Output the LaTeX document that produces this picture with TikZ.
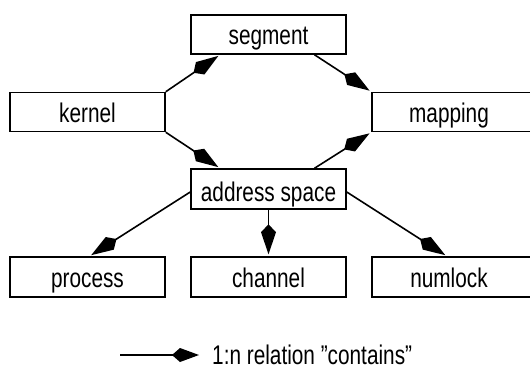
\documentclass[tikz,border=0pt]{standalone}
\usepackage{fontspec}
\setmainfont{Liberation Sans}[FakeStretch=0.77]
\usetikzlibrary{arrows.meta}
\begin{document}
\begin{tikzpicture}[x=1pt,y=-1pt,
  box/.style={draw, line width=1.5pt, minimum width=155pt, minimum height=39pt,
    inner sep=0pt, text height=20pt, text depth=0pt,
    font=\fontsize{27}{30}\selectfont},
  contains/.style={line width=1.6pt, -{Kite[length=30pt,width=15pt,inset=8pt]},
    shorten >=2pt},
  lbl/.style={inner sep=0pt, font=\fontsize{27}{30}\selectfont}]
\useasboundingbox (0,0) rectangle (530,370);

% entities
\node[box] (segment) at (268.5,34.5) {segment};
\node[box] (kernel)  at (87.5,112)   {kernel};
\node[box, minimum width=164pt] (mapping) at (454,112) {mapping\hspace*{10pt}};
\node[box, minimum height=40pt, text height=24pt] (addr) at (268.5,189) {address space};
\node[box, minimum height=40pt] (process) at (87.5,277) {process};
\node[box, minimum height=40pt] (channel) at (268.5,277) {channel};
\node[box, minimum width=164pt, minimum height=40pt] (numlock) at (454,277) {numlock\hspace*{10pt}};

% 1:n "contains" relations
\draw[contains] (kernel.north east) -- ([xshift=-48.5pt]segment.south);
\draw[contains] ([xshift=46pt]segment.south) -- (mapping.north west);
\draw[contains] (kernel.south east) -- ([xshift=-48.5pt]addr.north);
\draw[contains] ([xshift=46pt]addr.north) -- (mapping.south west);
\draw[contains] ([yshift=-3pt]addr.west) -- ([xshift=2pt]process.north);
\draw[contains] (addr.south) -- (channel.north);
\draw[contains] ([yshift=-3pt]addr.east) -- ([xshift=-7pt]numlock.north);

% legend
\coordinate (lstart) at (120,355);
\coordinate (lend) at (201,355);
\draw[contains, -{Kite[length=27pt,width=14pt,inset=8pt]}] (lstart) -- (lend);
\node[lbl, anchor=base west] (legend) at (212,364) {1:n relation "contains"};
\end{tikzpicture}
\end{document}
